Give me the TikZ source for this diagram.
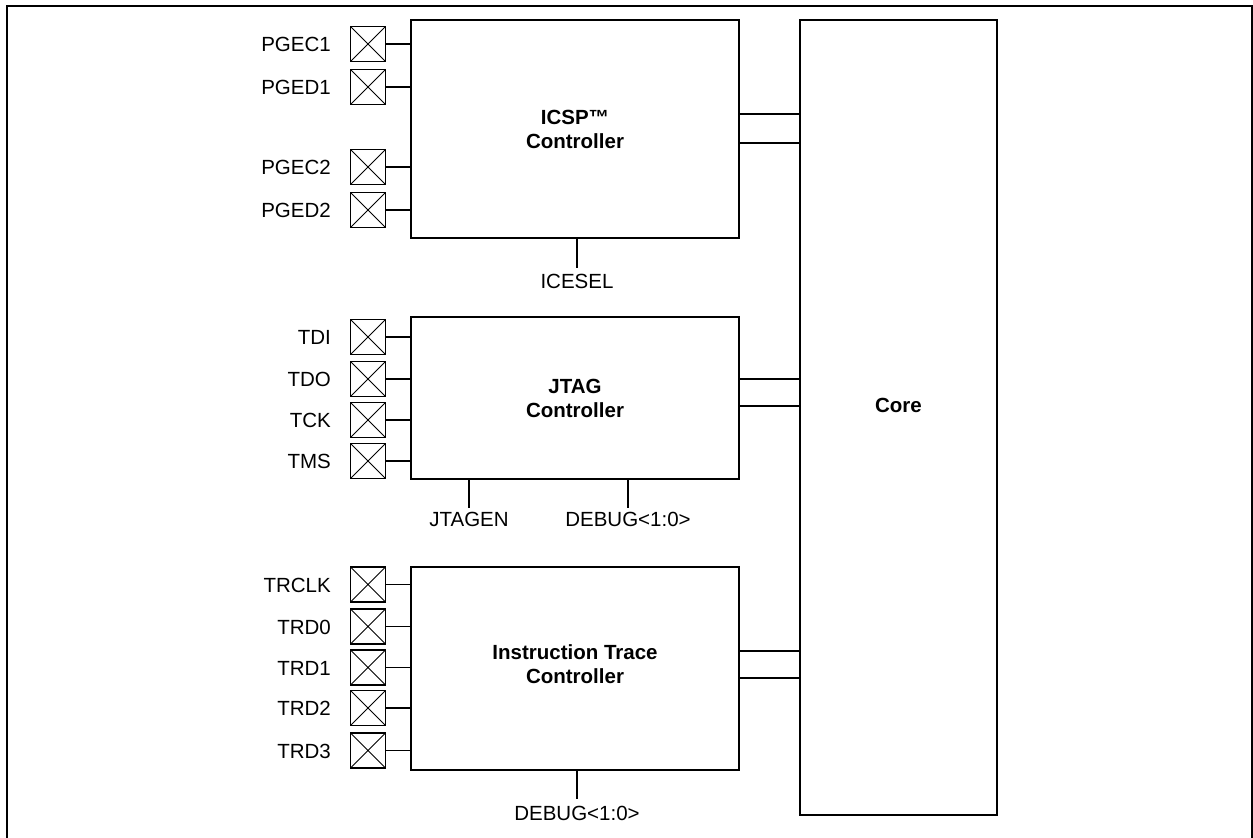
\documentclass[tikz,border=0pt]{standalone}
\usepackage{fontspec}
\setmainfont{Liberation Sans}
\begin{document}
\begin{tikzpicture}[x=1pt,y=-1pt,
  every node/.style={font=\fontsize{20.5}{24}\selectfont},
  pad/.style={draw, line width=1.6pt, minimum size=35pt, inner sep=0pt,
    path picture={\draw[line width=0.8pt] (path picture bounding box.north west) -- (path picture bounding box.south east)
      (path picture bounding box.north east) -- (path picture bounding box.south west);}},
  blockbox/.style={draw, line width=1.8pt, inner sep=0pt},
  title/.style={font=\bfseries\fontsize{20.5}{24}\selectfont, align=center, inner sep=0pt},
  padlbl/.style={anchor=base east, inner sep=0pt},
  sig/.style={anchor=base, inner sep=0pt},
  wire/.style={line width=1.6pt},
  bus/.style={line width=1.8pt}]
\useasboundingbox (0,0) rectangle (1253,838);
\draw[line width=2pt] (7,838) -- (7,6) -- (1252,6) -- (1252,838);

% blocks
\node[blockbox, minimum width=328pt, minimum height=218pt] (icsp) at (575,129) {};
\node[blockbox, minimum width=328pt, minimum height=162pt] (jtag) at (575,398) {};
\node[blockbox, minimum width=328pt, minimum height=203pt] (trace) at (575,668.5) {};
\node[blockbox, minimum width=197pt, minimum height=795pt] (core) at (898.5,417.5) {};

\node[title] (ticsp) at (575,129) {ICSP™\\Controller};
\node[title] (tjtag) at (575,398.5) {JTAG\\Controller};
\node[title] (ttrace) at (575,664.5) {Instruction Trace\\Controller};
\node[title] (tcore) at (898.5,405) {Core};

% pads
\foreach \n/\y/\t in {pa/44/PGEC1, pb/87/PGED1, pc/167/PGEC2, pd/210/PGED2,
  ja/337/TDI, jb/379/TDO, jc/420/TCK, jd/461/TMS,
  ta/584.5/TRCLK, tb/626.5/TRD0, tc/667.5/TRD1, td/708/TRD2, te/750.5/TRD3}{
  \node[pad] (\n) at (368,\y) {};
  \node[padlbl] (\n l) at (331,\y+7.5) {\t};
}
\foreach \n in {pa,pb,pc,pd}{\draw[wire] (\n.east) -- (\n.east -| icsp.west);}
\foreach \n in {ja,jb,jc,jd}{\draw[wire] (\n.east) -- (\n.east -| jtag.west);}
\foreach \n in {ta,tb,tc,td,te}{\draw[wire] (\n.east) -- (\n.east -| trace.west);}

% buses to core
\foreach \b/\y in {icsp/114, icsp/143, jtag/379, jtag/406, trace/651, trace/678}{
  \coordinate (c\b\y) at (0,\y);
  \draw[bus] (\b.east |- c\b\y) -- (core.west |- c\b\y);
}

% control signals
\coordinate (ice) at (577,268);
\draw[wire] (icsp.south -| ice) -- (ice);
\node[sig] (lice) at (577,288.5) {ICESEL};

\coordinate (jen) at (469,508);
\draw[wire] (jtag.south -| jen) -- (jen);
\node[sig] (ljen) at (469,526) {JTAGEN};

\coordinate (jdbg) at (628,508);
\draw[wire] (jtag.south -| jdbg) -- (jdbg);
\node[sig] (ljdbg) at (628,526) {DEBUG<1:0>};

\coordinate (tdbg) at (577,799);
\draw[wire] (trace.south -| tdbg) -- (tdbg);
\node[sig] (ltdbg) at (577,820.5) {DEBUG<1:0>};
\end{tikzpicture}
\end{document}
